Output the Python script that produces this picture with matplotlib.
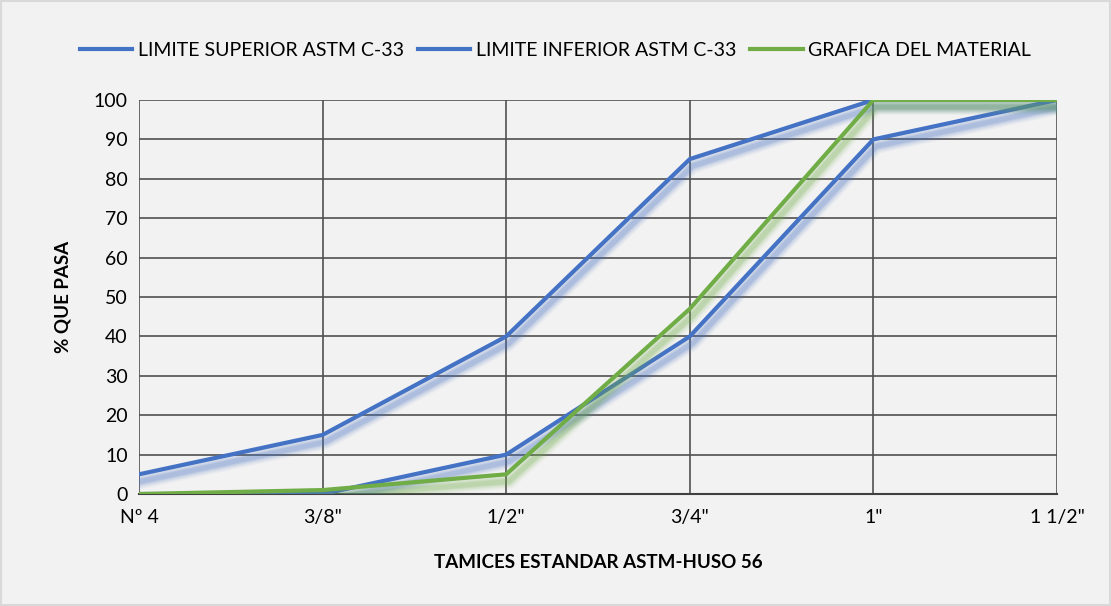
import matplotlib.pyplot as plt
import matplotlib.patheffects as pe
import numpy as np

plt.rcParams['font.family'] = ['Lato', 'DejaVu Sans']

tamices = ['Nº 4', '3/8"', '1/2"', '3/4"', '1"', '1 1/2"']
limite_superior = [5, 15, 40, 85, 100, 100]
limite_inferior = [0, 0, 10, 40, 90, 100]
material = [0, 1, 5, 47, 100, 100]

azul = '#4472C4'
verde = '#70AD47'
fondo = '#F2F2F2'


def sombra(color):
    # soft shadow built from stacked, offset strokes
    efectos = []
    for lw, a in [(11, 0.05), (9, 0.07), (7, 0.09), (5, 0.12), (3.5, 0.14)]:
        efectos.append(pe.Stroke(offset=(2, -5), linewidth=lw, foreground=color, alpha=a))
    efectos.append(pe.Normal())
    return efectos


fig = plt.figure(figsize=(11.11, 6.06), dpi=100, facecolor=fondo)
ax = fig.add_axes([0.1251, 0.1848, 0.8263, 0.6502])
ax.set_facecolor(fondo)

x = np.arange(len(tamices))
ax.plot(x, limite_superior, color=azul, lw=3, label='LIMITE SUPERIOR ASTM C-33',
        path_effects=sombra(azul), zorder=3, solid_joinstyle='miter')
ax.plot(x, limite_inferior, color=azul, lw=3, label='LIMITE INFERIOR ASTM C-33',
        path_effects=sombra(azul), zorder=3, solid_joinstyle='miter')
ax.plot(x, material, color=verde, lw=3, label='GRAFICA DEL MATERIAL',
        path_effects=sombra(verde), zorder=4, solid_joinstyle='miter')

ax.set_xlim(0, len(tamices) - 1)
ax.set_ylim(0, 100)
ax.set_yticks(range(0, 101, 10))
ax.set_xticks(x)
ax.set_xticklabels(tamices)
ax.tick_params(axis='both', length=0, labelsize=14, colors='black')
ax.tick_params(axis='x', pad=11)
ax.tick_params(axis='y', pad=8)
ax.grid(True, color='#505050', lw=1.2, zorder=0)
ax.set_axisbelow(True)
for lado in ['top', 'left', 'right']:
    ax.spines[lado].set_visible(False)
ax.spines['bottom'].set_color('#404040')
ax.spines['bottom'].set_linewidth(1.5)

ax.set_xlabel('TAMICES ESTANDAR ASTM-HUSO 56', fontsize=13.5, fontweight='bold', labelpad=20)
ax.set_ylabel('% QUE PASA', fontsize=13.5, fontweight='bold', labelpad=16)

leg = fig.legend(loc='upper center', bbox_to_anchor=(0.5, 0.96), ncol=3, frameon=False,
                 fontsize=14, handlelength=2.7, handletextpad=0.3, columnspacing=0.7)
for h in leg.legend_handles:
    h.set_path_effects([])

# chart border
fig.patches.append(plt.Rectangle((0.001, 0.001), 0.998, 0.998, transform=fig.transFigure,
                                 fill=False, edgecolor='#D9D9D9', lw=1.5))

fig.savefig('out.png', dpi=100, facecolor=fondo)
